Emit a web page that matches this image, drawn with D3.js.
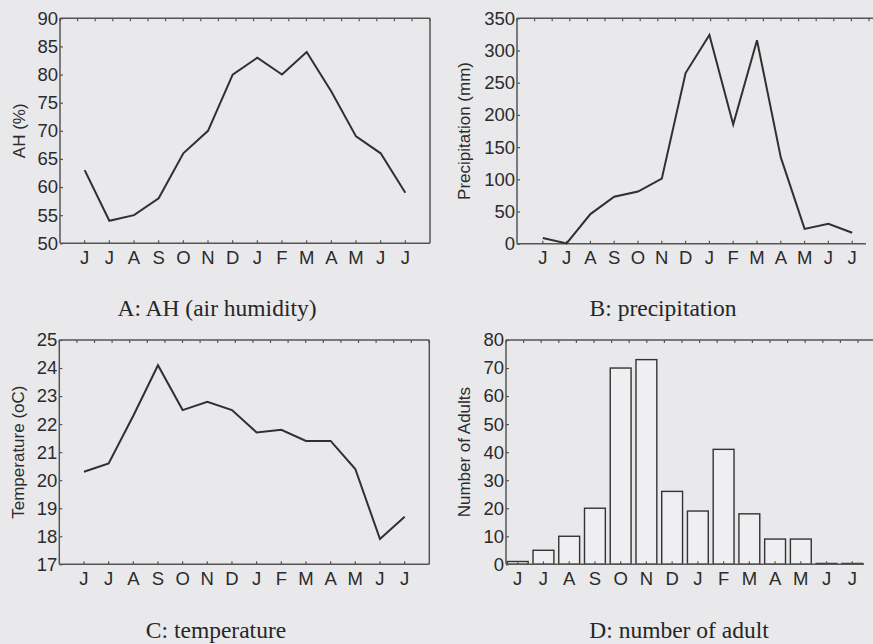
<!DOCTYPE html>
<html>
<head>
<meta charset="utf-8">
<script src="https://cdn.jsdelivr.net/npm/d3@7"></script>
<style>
  html, body { margin: 0; padding: 0; background: #e9e9ec; }
  svg { display: block; }
</style>
</head>
<body>
<svg id="chart" width="873" height="644"></svg>
<script>
// ---- data ----
const months = ["J","J","A","S","O","N","D","J","F","M","A","M","J","J"];
const ahValues = [63, 54, 55, 58, 66, 70, 80, 83, 80, 84, 77, 69, 66, 59];
const precipValues = [9, 0.5, 46, 73, 81, 101, 265, 324, 185, 316, 134, 23, 31, 17];
const tempValues = [20.3, 20.6, 22.3, 24.1, 22.5, 22.8, 22.5, 21.7, 21.8, 21.4, 21.4, 20.4, 17.9, 18.7];
const adultValues = [1, 5, 10, 20, 70, 73, 26, 19, 41, 18, 9, 9, 0.3, 0.3];
const ahTicks = [50, 55, 60, 65, 70, 75, 80, 85, 90];
const precipTicks = [0, 50, 100, 150, 200, 250, 300, 350];
const tempTicks = [17, 18, 19, 20, 21, 22, 23, 24, 25];
const adultTicks = [0, 10, 20, 30, 40, 50, 60, 70, 80];

const svg = d3.select("#chart");
const frameColor = "#555";
const inkColor = "#2b2b2b";
const sansFont = "'Liberation Sans', Arial, sans-serif";
const serifFont = "'Liberation Serif', 'Times New Roman', serif";

const panels = [
  { x0: 60, x1: 430, axisEnd: 430, rightBorder: true, y0: 18.3, y1: 243.3, values: ahValues, ticks: ahTicks,
    yTitle: "AH (%)", yTitleX: 19, title: "A: AH (air humidity)", titleX: 217, titleY: 316, type: "line" },
  { x0: 519, x1: 876, axisEnd: 866, rightBorder: false, y0: 18.3, y1: 243.7, values: precipValues, ticks: precipTicks,
    yTitle: "Precipitation (mm)", yTitleX: 464, title: "B: precipitation", titleX: 663, titleY: 316, type: "line", frameLeft: 517 },
  { x0: 59.3, x1: 429.3, axisEnd: 429.3, rightBorder: true, y0: 340, y1: 564.3, values: tempValues, ticks: tempTicks,
    yTitle: "Temperature (oC)", yTitleX: 18, title: "C: temperature", titleX: 216, titleY: 638, type: "line" },
  { x0: 506, x1: 864, axisEnd: 864, rightBorder: false, y0: 340, y1: 564.3, values: adultValues, ticks: adultTicks,
    yTitle: "Number of Adults", yTitleX: 464, title: "D: number of adult", titleX: 679, titleY: 638, type: "bar" }
];

panels.forEach(p => {
  const g = svg.append("g");
  const left = p.frameLeft || p.x0;
  const ext = d3.extent(p.ticks);
  const y = d3.scaleLinear().domain(ext).range([p.y1, p.y0]);

  let xPos;
  if (p.type === "line") {
    const x = d3.scaleLinear().domain([-1, months.length]).range([p.x0, p.x1]);
    xPos = i => x(i);
  } else {
    const xb = d3.scaleBand().domain(d3.range(months.length)).range([p.x0, p.x1]).paddingInner(0.19).paddingOuter(0.05);
    xPos = i => xb(i) + xb.bandwidth() / 2;
    g.selectAll("rect.bar").data(p.values).enter().append("rect")
      .attr("class", "bar")
      .attr("x", (d, i) => xb(i))
      .attr("width", xb.bandwidth())
      .attr("y", d => y(d))
      .attr("height", d => Math.max(0.5, y(0) - y(d)))
      .attr("fill", "#efeff1")
      .attr("stroke", "#333")
      .attr("stroke-width", 1.4);
  }

  // frame
  const rightX = p.rightBorder ? p.x1 : 890;
  g.append("line").attr("x1", left).attr("x2", rightX).attr("y1", p.y0).attr("y2", p.y0)
    .attr("stroke", frameColor).attr("stroke-width", 1.5);
  g.append("line").attr("x1", left).attr("x2", p.axisEnd).attr("y1", p.y1).attr("y2", p.y1)
    .attr("stroke", frameColor).attr("stroke-width", 1.5);
  g.append("line").attr("x1", left).attr("x2", left).attr("y1", p.y0).attr("y2", p.y1)
    .attr("stroke", frameColor).attr("stroke-width", 1.5);
  if (p.rightBorder) {
    g.append("line").attr("x1", p.x1).attr("x2", p.x1).attr("y1", p.y0).attr("y2", p.y1)
      .attr("stroke", frameColor).attr("stroke-width", 1.5);
  }

  // top minor ticks
  const topTicks = d3.range(0, 22).map(k => left + k * 17.6).filter(v => v < 880);
  g.selectAll("line.tt").data(topTicks).enter().append("line")
    .attr("x1", d => d).attr("x2", d => d).attr("y1", p.y0).attr("y2", p.y0 + 3)
    .attr("stroke", frameColor).attr("stroke-width", 1.2);

  // bottom ticks at months
  g.selectAll("line.bt").data(months).enter().append("line")
    .attr("x1", (d, i) => xPos(i)).attr("x2", (d, i) => xPos(i))
    .attr("y1", p.y1).attr("y2", p.y1 - 3)
    .attr("stroke", frameColor).attr("stroke-width", 1.2);

  // y axis
  const yAxis = d3.axisLeft(y).tickValues(p.ticks).tickSize(-3).tickPadding(4).tickFormat(d3.format("d"));
  const ya = g.append("g").attr("transform", `translate(${left},0)`).call(yAxis);
  ya.select(".domain").remove();
  ya.selectAll(".tick line").attr("stroke", frameColor).attr("stroke-width", 1.2);
  ya.selectAll(".tick text").attr("font-family", sansFont).attr("font-size", 18.5)
    .attr("fill", inkColor).attr("x", -2);

  // month labels
  g.selectAll("text.m").data(months).enter().append("text")
    .attr("x", (d, i) => xPos(i)).attr("y", p.y1 + 20.5)
    .attr("text-anchor", "middle")
    .attr("font-family", sansFont).attr("font-size", 18.5).attr("fill", inkColor)
    .text(d => d);

  // line
  if (p.type === "line") {
    const line = d3.line().x((d, i) => xPos(i)).y(d => y(d));
    g.append("path").datum(p.values).attr("d", line)
      .attr("fill", "none").attr("stroke", "#303030").attr("stroke-width", 2)
      .attr("stroke-linejoin", "miter");
  }

  // y title
  g.append("text")
    .attr("transform", `translate(${p.yTitleX},${(p.y0 + p.y1) / 2}) rotate(-90)`)
    .attr("text-anchor", "middle").attr("dominant-baseline", "central")
    .attr("font-family", sansFont).attr("font-size", 17).attr("fill", inkColor)
    .text(p.yTitle);

  // panel caption
  g.append("text").attr("x", p.titleX).attr("y", p.titleY)
    .attr("text-anchor", "middle")
    .attr("font-family", serifFont).attr("font-size", 23.5).attr("fill", "#262626")
    .text(p.title);
});
</script>
</body>
</html>
